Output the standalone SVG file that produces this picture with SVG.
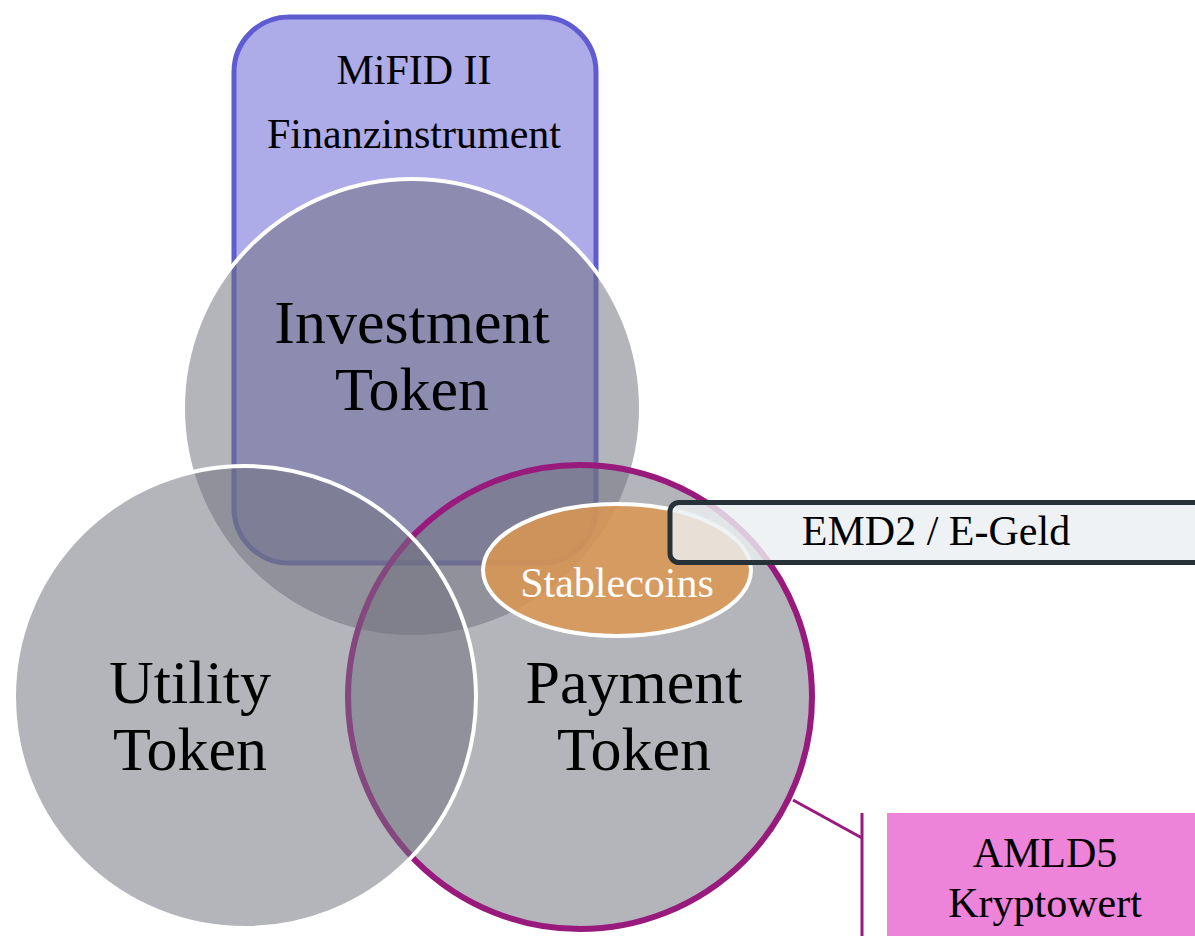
<svg xmlns="http://www.w3.org/2000/svg" width="1195" height="936" viewBox="0 0 1195 936">
  <style>
    .label { font-family: "Liberation Serif", "Times New Roman", serif; text-anchor: middle; fill: #000; }
    .big { font-size: 62px; }
    .small { font-size: 42px; }
    .token { fill: #72717f; fill-opacity: 0.53; stroke: #ffffff; stroke-width: 4; }
    .link { fill: none; stroke: #991a7d; stroke-width: 3; }
  </style>
  <rect width="1195" height="936" fill="#ffffff"/>

  <!-- regulatory frame: MiFID II -->
  <g id="mifid">
    <rect x="234" y="17" width="362" height="546" rx="55" ry="55" fill="#adabe8" stroke="#5f5cd2" stroke-width="5"/>
  </g>

  <!-- token categories -->
  <g id="investment">
    <circle class="token" cx="412" cy="408" r="229"/>
  </g>
  <g id="payment">
    <circle class="token" cx="580" cy="697" r="232" style="stroke:#991a7d;stroke-width:6"/>
  </g>
  <g id="utility">
    <circle class="token" cx="245" cy="697" r="231"/>
  </g>

  <g id="stablecoins">
    <ellipse cx="617" cy="570" rx="134" ry="66" fill="#dc9651" fill-opacity="0.85" stroke="#ffffff" stroke-width="4"/>
    <text class="label small" x="617" y="597" style="fill:#ffffff">Stablecoins</text>
  </g>

  <g id="emd2">
    <rect x="670" y="502.5" width="560" height="60" rx="9" ry="9" fill="#eceff1" fill-opacity="0.82" stroke="#263238" stroke-width="5"/>
    <text class="label small" x="936" y="545">EMD2 / E-Geld</text>
  </g>

  <g id="amld5">
    <rect x="887" y="813" width="320" height="130" fill="#ee83da"/>
    <text class="label small" x="1045" y="867">AMLD5</text>
    <text class="label small" x="1045" y="917">Kryptowert</text>
  </g>

  <!-- connectors -->
  <g id="connectors">
    <path class="link" d="M793 800 L862 838"/>
    <path class="link" d="M862 813 L862 936"/>
  </g>

  <!-- labels -->
  <g id="labels">
    <text class="label small" x="414" y="84">MiFID II</text>
    <text class="label small" x="414" y="148">Finanzinstrument</text>
    <text class="label big" x="412" y="343">Investment</text>
    <text class="label big" x="412" y="410">Token</text>
    <text class="label big" x="190" y="703">Utility</text>
    <text class="label big" x="190" y="770">Token</text>
    <text class="label big" x="634" y="703">Payment</text>
    <text class="label big" x="634" y="770">Token</text>
  </g>
</svg>
